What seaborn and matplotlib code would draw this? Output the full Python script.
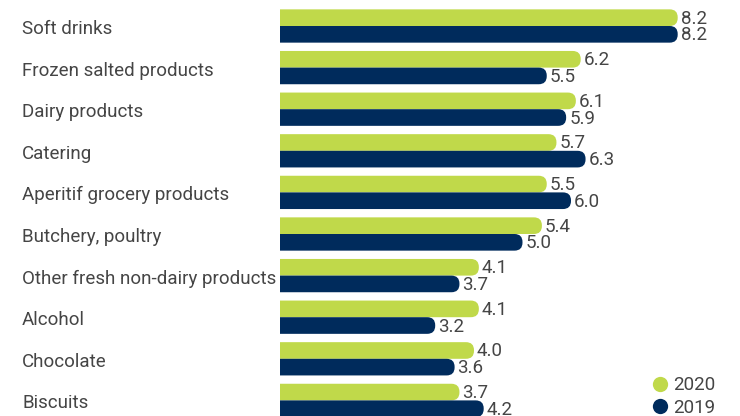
import numpy as np
import pandas as pd
import seaborn as sns
import matplotlib.pyplot as plt
from matplotlib.patches import FancyBboxPatch
from matplotlib.lines import Line2D
import matplotlib.transforms as mtransforms

categories = ['Soft drinks', 'Frozen salted products', 'Dairy products', 'Catering',
              'Aperitif grocery products', 'Butchery, poultry',
              'Other fresh non-dairy products', 'Alcohol', 'Chocolate', 'Biscuits']
values_2020 = [8.2, 6.2, 6.1, 5.7, 5.5, 5.4, 4.1, 4.1, 4.0, 3.7]
values_2019 = [8.2, 5.5, 5.9, 6.3, 6.0, 5.0, 3.7, 3.2, 3.6, 4.2]
years = ['2020', '2019']

GREEN = '#c0d94a'
NAVY = '#002b5c'
TXT = '#454545'

df = pd.DataFrame({
    'Category': categories * 2,
    'Value': values_2020 + values_2019,
    'Year': [years[0]] * len(categories) + [years[1]] * len(categories),
})

sns.set_style('white')
plt.rcParams['font.family'] = ['Roboto', 'DejaVu Sans']

fig = plt.figure(figsize=(7.4, 4.16), dpi=100)
ax = fig.add_axes([280 / 740, 0, 460 / 740, 1])

sns.barplot(data=df, x='Value', y='Category', hue='Year', orient='h',
            palette=[GREEN, NAVY], saturation=1, width=0.8, gap=0,
            legend=False, ax=ax)

px_x = 48.5   # pixels per unit on x
px_y = 41.6   # pixels per category
ax.set_xlim(0, 460 / px_x)
ax.set_ylim(416 / px_y - 26 / px_y, -26 / px_y)

# swap plain bars for bars with a rounded right end
rad = 8.0 / px_x
bars = list(ax.patches)
for p in bars:
    x0, y0 = p.get_x(), p.get_y()
    w, h = p.get_width(), p.get_height()
    fc = p.get_facecolor()
    p.remove()
    rp = FancyBboxPatch((x0 - 0.5, y0), w + 0.5, h,
                        boxstyle=f'round,pad=0,rounding_size={rad}',
                        mutation_aspect=px_x / px_y,
                        facecolor=fc, edgecolor='none')
    ax.add_patch(rp)
    ax.text(x0 + w + 3 / px_x, y0 + h / 2 + 6 / px_y, f'{w:.1f}', va='baseline',
            ha='left', fontsize=13.5, color=TXT)

ax.set_xlabel('')
ax.set_ylabel('')
ax.set_xticks([])
ax.set_yticks([])
sns.despine(ax=ax, left=True, bottom=True)

trans = mtransforms.blended_transform_factory(fig.transFigure, ax.transData)
for i, c in enumerate(categories):
    ax.text(22 / 740, i + 8 / px_y, c, transform=trans, ha='left', va='baseline',
            fontsize=13.5, color=TXT, clip_on=False)

handles = [Line2D([], [], marker='o', linestyle='none', markersize=11,
                  markerfacecolor=col, markeredgecolor='none')
           for col in [GREEN, NAVY]]
leg = fig.legend(handles, years, loc='center left',
                 bbox_to_anchor=(652.5 / 740, 1 - 396.5 / 416),
                 frameon=False, borderpad=0, borderaxespad=0,
                 handlelength=0.8, handletextpad=0.3, labelspacing=0.23,
                 prop={'size': 13.5}, labelcolor=TXT)

fig.savefig('out.png', dpi=100)
